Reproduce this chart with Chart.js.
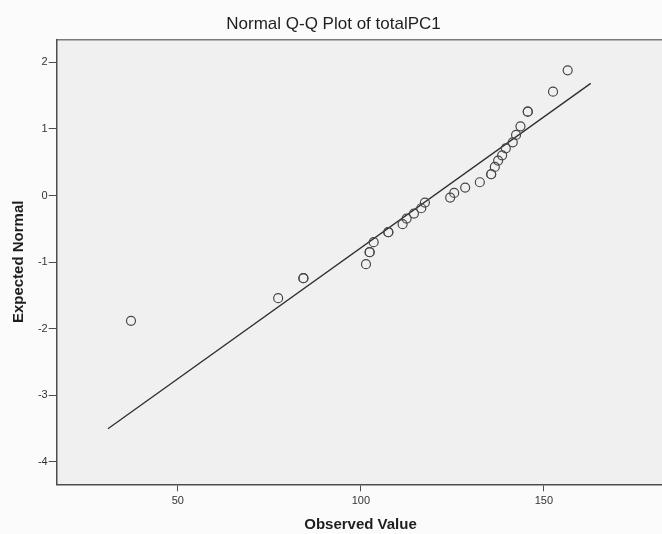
<!DOCTYPE html>
<html>
<head>
<meta charset="utf-8">
<script src="https://cdn.jsdelivr.net/npm/chart.js@4"></script>
<style>
  html, body { margin: 0; padding: 0; overflow: hidden; background: #fbfbfb; }
  canvas { display: block; }
</style>
</head>
<body>
<canvas id="qqChart" width="670" height="534"></canvas>
<script>
var observed = [37.2, 77.4, 84.3, 84.3, 101.4, 102.4, 102.4, 103.5, 107.5, 107.5, 111.4, 112.5, 114.5, 116.5, 117.5,
  124.4, 125.5, 128.5, 132.5, 135.6, 135.6, 136.6, 137.5, 138.6, 139.6, 141.5, 142.4, 143.6, 145.6, 145.6, 152.5, 156.5];
var expected = [-1.88, -1.54, -1.24, -1.24, -1.03, -0.85, -0.85, -0.70, -0.55, -0.55, -0.43, -0.345, -0.27, -0.19, -0.105,
  -0.03, 0.04, 0.12, 0.20, 0.32, 0.32, 0.43, 0.525, 0.605, 0.71, 0.80, 0.91, 1.04, 1.26, 1.26, 1.56, 1.88];

// reference line end points
var lineX = [30.9, 162.8];
var lineY = [-3.50, 1.685];

var xTicks = [50, 100, 150];
var yTicks = [-4, -3, -2, -1, 0, 1, 2];

var points = observed.map(function(v, i) { return {x: v, y: expected[i]}; });
var refLine = lineX.map(function(v, i) { return {x: v, y: lineY[i]}; });

var plotBg = {
  id: 'plotBg',
  beforeDraw: function(chart) {
    var a = chart.chartArea, ctx = chart.ctx;
    ctx.save();
    ctx.fillStyle = '#f0f0f0';
    ctx.fillRect(a.left, a.top, a.right - a.left, a.bottom - a.top);
    ctx.restore();
  }
};

var axisColor = '#4d4d4d';
var fontFamily = 'Liberation Sans, Arial, sans-serif';

new Chart(document.getElementById('qqChart').getContext('2d'), {
  type: 'scatter',
  data: {
    datasets: [{
      label: 'Observed',
      data: points,
      pointStyle: 'circle',
      pointRadius: 4.5,
      pointBorderWidth: 1.2,
      pointBorderColor: '#474747',
      pointBackgroundColor: 'rgba(0,0,0,0)',
      showLine: false
    }, {
      label: 'Line',
      data: refLine,
      showLine: true,
      borderColor: '#2e2e2e',
      borderWidth: 1.3,
      pointRadius: 0
    }]
  },
  options: {
    responsive: false,
    animation: false,
    layout: { padding: { right: 3, left: 0, top: 0, bottom: 0 } },
    plugins: {
      legend: { display: false },
      tooltip: { enabled: false },
      title: {
        display: true,
        text: 'Normal Q-Q Plot of totalPC1',
        color: '#1e1e1e',
        font: { family: fontFamily, size: 17, weight: 'normal' },
        padding: { top: 14, bottom: 5 }
      }
    },
    scales: {
      x: {
        type: 'linear',
        position: 'bottom',
        min: 16.9,
        max: 182.9,
        afterBuildTicks: function(s) { s.ticks = xTicks.map(function(v) { return {value: v}; }); },
        afterFit: function(s) { s.height = 49.7; },
        grid: { display: true, drawOnChartArea: false, drawTicks: true, tickLength: 7, tickColor: axisColor, tickWidth: 1 },
        border: { display: true, color: axisColor, width: 1.5 },
        ticks: { color: '#333333', padding: 3, font: { family: fontFamily, size: 11 } },
        title: {
          display: true,
          text: 'Observed Value',
          color: '#1e1e1e',
          padding: { top: 0, bottom: 0 },
          font: { family: fontFamily, size: 15, weight: 'bold' }
        }
      },
      xTop: {
        type: 'linear',
        position: 'top',
        min: 16.9,
        max: 182.9,
        afterFit: function(s) { s.height = 0; },
        grid: { display: false, drawTicks: false },
        border: { display: true, color: '#7a7a7a', width: 1.5 },
        ticks: { display: false }
      },
      y: {
        type: 'linear',
        min: -4.335,
        max: 2.345,
        afterBuildTicks: function(s) { s.ticks = yTicks.map(function(v) { return {value: v}; }); },
        afterFit: function(s) { s.width = 56.7; },
        grid: { display: true, drawOnChartArea: false, drawTicks: true, tickLength: 8, tickColor: axisColor, tickWidth: 1 },
        border: { display: true, color: axisColor, width: 1.5 },
        ticks: { color: '#333333', padding: 1, font: { family: fontFamily, size: 11 } },
        title: {
          display: true,
          text: 'Expected Normal',
          color: '#1e1e1e',
          padding: { top: 9.5, bottom: 0 },
          font: { family: fontFamily, size: 15, weight: 'bold' }
        }
      }
    }
  },
  plugins: [plotBg]
});
</script>
</body>
</html>
